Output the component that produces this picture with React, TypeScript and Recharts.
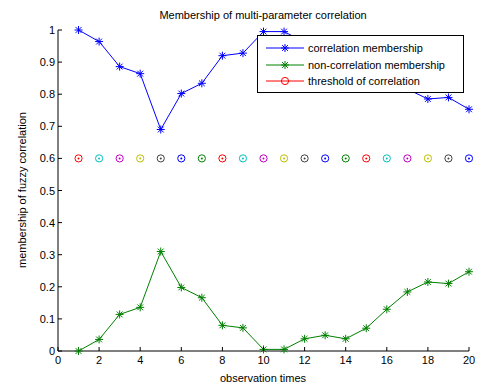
import React from 'react'
import { LineChart, Line, XAxis, YAxis } from 'recharts'

const times = [1, 2, 3, 4, 5, 6, 7, 8, 9, 10, 11, 12, 13, 14, 15, 16, 17, 18, 19, 20]
const correlation = [1.0, 0.964, 0.886, 0.864, 0.69, 0.802, 0.834, 0.92, 0.928, 0.995, 0.995, 0.962, 0.951, 0.962, 0.929, 0.87, 0.816, 0.785, 0.79, 0.753]
const nonCorrelation = [0.0, 0.036, 0.114, 0.136, 0.31, 0.198, 0.166, 0.08, 0.072, 0.005, 0.005, 0.038, 0.049, 0.038, 0.071, 0.13, 0.184, 0.215, 0.21, 0.247]
const threshold = [0.6, 0.6, 0.6, 0.6, 0.6, 0.6, 0.6, 0.6, 0.6, 0.6, 0.6, 0.6, 0.6, 0.6, 0.6, 0.6, 0.6, 0.6, 0.6, 0.6]
const circleColors = ['#ff0000', '#00bfbf', '#bf00bf', '#bfbf00', '#404040', '#0000ff', '#008000']

const xTicks = [0, 2, 4, 6, 8, 10, 12, 14, 16, 18, 20]
const yTicks = [0, 0.1, 0.2, 0.3, 0.4, 0.5, 0.6, 0.7, 0.8, 0.9, 1]

const data = times.map((t, i) => ({
  t,
  corr: correlation[i],
  nonCorr: nonCorrelation[i],
  thr: threshold[i],
}))

const FONT = '"Liberation Sans", Arial, sans-serif'

function Star(props: any) {
  const { cx, cy, stroke } = props
  if (cx == null || cy == null) return null
  const r = 4
  const d = 2.9
  return (
    <g stroke={stroke} strokeWidth={1}>
      <line x1={cx - r} y1={cy} x2={cx + r} y2={cy} />
      <line x1={cx} y1={cy - r} x2={cx} y2={cy + r} />
      <line x1={cx - d} y1={cy - d} x2={cx + d} y2={cy + d} />
      <line x1={cx - d} y1={cy + d} x2={cx + d} y2={cy - d} />
    </g>
  )
}

function Ring(props: any) {
  const { cx, cy, index } = props
  if (cx == null || cy == null) return null
  const c = circleColors[index % circleColors.length]
  return (
    <g>
      <circle cx={cx} cy={cy} r={3.6} fill="none" stroke={c} strokeWidth={1} />
      <circle cx={cx} cy={cy} r={1} fill={c} />
    </g>
  )
}

function BottomTick(props: any) {
  const { x, y, payload } = props
  return (
    <g>
      <line x1={x} x2={x} y1={y} y2={y - 4} stroke="#000" />
      <text x={x} y={y + 13} textAnchor="middle" fontSize={11} fontFamily={FONT} fill="#000">
        {payload.value}
      </text>
    </g>
  )
}

function LeftTick(props: any) {
  const { x, y, payload } = props
  return (
    <g>
      <line x1={x} x2={x + 4} y1={y} y2={y} stroke="#000" />
      <text x={x - 3} y={y + 4} textAnchor="end" fontSize={11} fontFamily={FONT} fill="#000">
        {payload.value}
      </text>
    </g>
  )
}

function TopTick(props: any) {
  const { x, y } = props
  return <line x1={x} x2={x} y1={y} y2={y + 4} stroke="#000" />
}

function RightTick(props: any) {
  const { x, y } = props
  return <line x1={x} x2={x - 4} y1={y} y2={y} stroke="#000" />
}

const legendItems = [
  { label: 'correlation membership', color: '#0000ff', marker: 'star' },
  { label: 'non-correlation membership', color: '#008000', marker: 'star' },
  { label: 'threshold of correlation', color: '#ff0000', marker: 'ring' },
]

function LegendBox() {
  return (
    <div
      style={{
        position: 'absolute',
        left: 257,
        top: 35,
        width: 205,
        height: 56,
        background: '#fff',
        border: '1px solid #000',
        fontFamily: FONT,
        fontSize: 11,
        color: '#000',
      }}
    >
      {legendItems.map((item, i) => (
        <div key={i} style={{ position: 'absolute', left: 6, top: 5 + i * 16.5, height: 14, display: 'flex', alignItems: 'center' }}>
          <svg width={40} height={14}>
            <line x1={2} x2={40} y1={7} y2={7} stroke={item.color} />
            {item.marker === 'star' ? (
              <Star cx={21} cy={7} stroke={item.color} />
            ) : (
              <circle cx={21} cy={7} r={3.6} fill="none" stroke={item.color} />
            )}
          </svg>
          <span style={{ marginLeft: 4, whiteSpace: 'nowrap' }}>{item.label}</span>
        </div>
      ))}
    </div>
  )
}

export default function App() {
  return (
    <div style={{ position: 'absolute', left: 0, top: 0, width: 478, height: 387, background: '#fff' }}>
      <LineChart width={478} height={387} data={data} margin={{ top: 30, right: 9, left: 0, bottom: 0 }}>
        <XAxis
          dataKey="t"
          type="number"
          domain={[0, 20]}
          ticks={xTicks}
          tickSize={0}
          tickMargin={0}
          tickLine={false}
          tick={<BottomTick />}
          height={36}
          stroke="#000"
          interval={0}
        />
        <XAxis
          xAxisId="top"
          orientation="top"
          dataKey="t"
          type="number"
          domain={[0, 20]}
          ticks={xTicks}
          tickSize={0}
          tickMargin={0}
          tickLine={false}
          tick={<TopTick />}
          height={0}
          stroke="#000"
          interval={0}
        />
        <YAxis
          type="number"
          domain={[0, 1]}
          ticks={yTicks}
          tickSize={0}
          tickMargin={0}
          tickLine={false}
          tick={<LeftTick />}
          width={58}
          stroke="#000"
          interval={0}
        />
        <YAxis
          yAxisId="right"
          orientation="right"
          type="number"
          domain={[0, 1]}
          ticks={yTicks}
          tickSize={0}
          tickMargin={0}
          tickLine={false}
          tick={<RightTick />}
          width={0}
          stroke="#000"
          interval={0}
        />
        <Line
          dataKey="corr"
          stroke="#0000ff"
          strokeWidth={1}
          dot={<Star stroke="#0000ff" />}
          isAnimationActive={false}
        />
        <Line
          dataKey="nonCorr"
          stroke="#008000"
          strokeWidth={1}
          dot={<Star stroke="#008000" />}
          isAnimationActive={false}
        />
        <Line
          dataKey="thr"
          stroke="none"
          dot={<Ring />}
          isAnimationActive={false}
        />
        <text x={263} y={19} textAnchor="middle" fontSize={11} fontFamily={FONT} fill="#000">
          Membership of multi-parameter correlation
        </text>
        <text x={263} y={382} textAnchor="middle" fontSize={11} fontFamily={FONT} fill="#000">
          observation times
        </text>
        <text
          x={26}
          y={190}
          textAnchor="middle"
          fontSize={11}
          fontFamily={FONT}
          fill="#000"
          transform="rotate(-90 26 190)"
        >
          membership of fuzzy correlation
        </text>
      </LineChart>
      <LegendBox />
    </div>
  )
}
